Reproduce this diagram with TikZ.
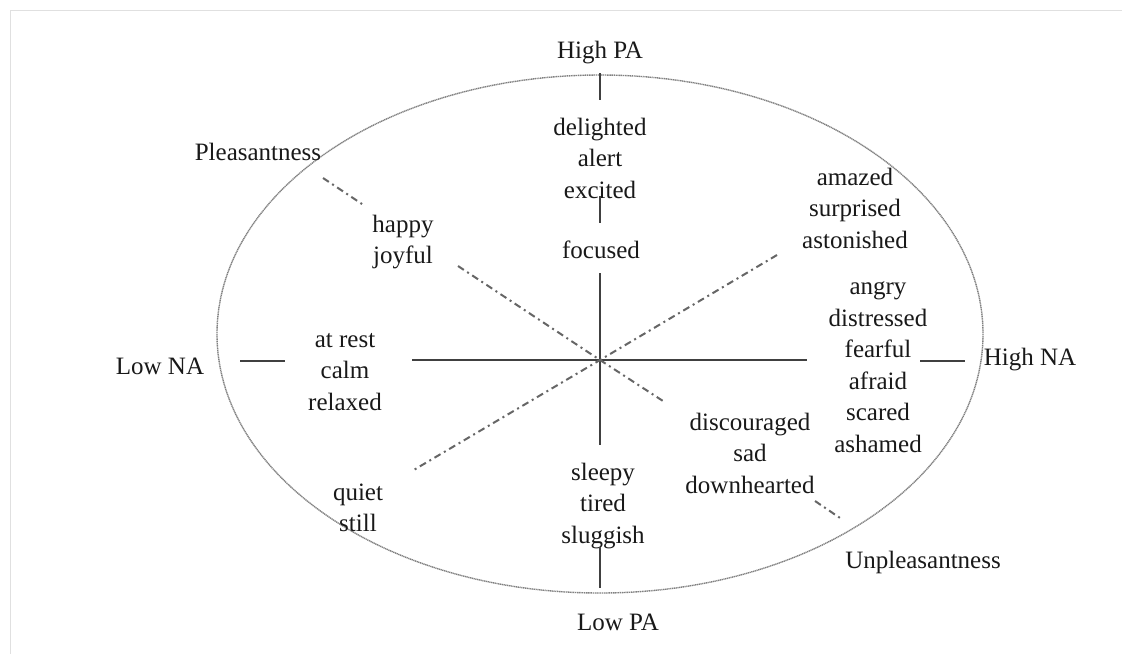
\documentclass[tikz,border=0pt]{standalone}
\usepackage{fontspec}
\setmainfont{Liberation Serif}
\usetikzlibrary{positioning}
\tikzstyle{word} = [align=center, inner sep=0pt, text=black!90, font=\fontsize{25}{31.5}\selectfont]
\tikzstyle{axis} = [line width=2.2pt, draw=black!75]
\tikzstyle{diag} = [line width=2pt, draw=black!60, dash pattern=on 7pt off 4pt on 2pt off 4pt]
\tikzstyle{rim} = [line width=1.4pt, draw=black!50, dash pattern=on 1.2pt off 0.6pt]
\tikzstyle{frame} = [line width=1pt, draw=black!12]

\begin{document}
\begin{tikzpicture}[x=1pt, y=-1pt]
    \useasboundingbox (0,0) rectangle (1123,654);
    \draw [frame] (10,654) -- (10,10) -- (1122,10);
    \draw [rim] (600,334) ellipse [x radius=383, y radius=259];

    \node (highpa) [word] at (600,53) {High PA};
    \node (lowpa) [word] at (618,622) {Low PA};
    \node (lowna) [word] at (160,366) {Low NA};
    \node (highna) [word] at (1030,360) {High NA};
    \node (pleas) [word] at (258,152) {Pleasantness};
    \node (unpleas) [word] at (923,562) {Unpleasantness};

    \node (delighted) [word] at (600,158) {delighted\\alert\\excited};
    \node (focused) [word] at (601,250) {focused};
    \node (amazed) [word] at (855,208) {amazed\\surprised\\astonished};
    \node (happy) [word] at (403,242) {happy\\joyful};
    \node (angry) [word] at (878,367) {angry\\distressed\\fearful\\afraid\\scared\\ashamed};
    \node (atrest) [word] at (345,372) {at rest\\calm\\relaxed};
    \node (quiet) [word] at (358,508) {quiet\\still};
    \node (sleepy) [word] at (603,506) {sleepy\\tired\\sluggish};
    \node (sad) [word] at (750,453) {discouraged\\sad\\downhearted};

    \coordinate (o) at (600,360);
    \coordinate (pa1) at (600,73);
    \coordinate (pa2) at (600,100);
    \coordinate (pa3) at (600,196);
    \coordinate (pa4) at (600,223);
    \coordinate (pa5) at (600,273);
    \coordinate (pa6) at (600,445);
    \coordinate (pa7) at (600,547);
    \coordinate (pa8) at (600,588);
    \coordinate (na1) at (240,361);
    \coordinate (na2) at (285,361);
    \coordinate (na3) at (412,360);
    \coordinate (na4) at (807,360);
    \coordinate (na5) at (920,361);
    \coordinate (na6) at (965,361);
    \coordinate (pl1) at (323,178);
    \coordinate (pl2) at (365,206);
    \coordinate (pl3) at (458,266);
    \coordinate (pl4) at (663,401);
    \coordinate (pl5) at (815,501);
    \coordinate (pl6) at (843,520);
    \coordinate (am1) at (777,255);
    \coordinate (am2) at (412,471);

    \draw [axis] (pa1) -- (pa2);
    \draw [axis] (pa3) -- (pa4);
    \draw [axis] (pa5) -- (o) -- (pa6);
    \draw [axis] (pa7) -- (pa8);
    \draw [axis] (na1) -- (na2);
    \draw [axis] (na3) -- (o) -- (na4);
    \draw [axis] (na5) -- (na6);

    \draw [diag] (pl1) -- (pl2);
    \draw [diag] (pl3) -- (o) -- (pl4);
    \draw [diag] (pl5) -- (pl6);
    \draw [diag] (am1) -- (o) -- (am2);
\end{tikzpicture}
\end{document}
